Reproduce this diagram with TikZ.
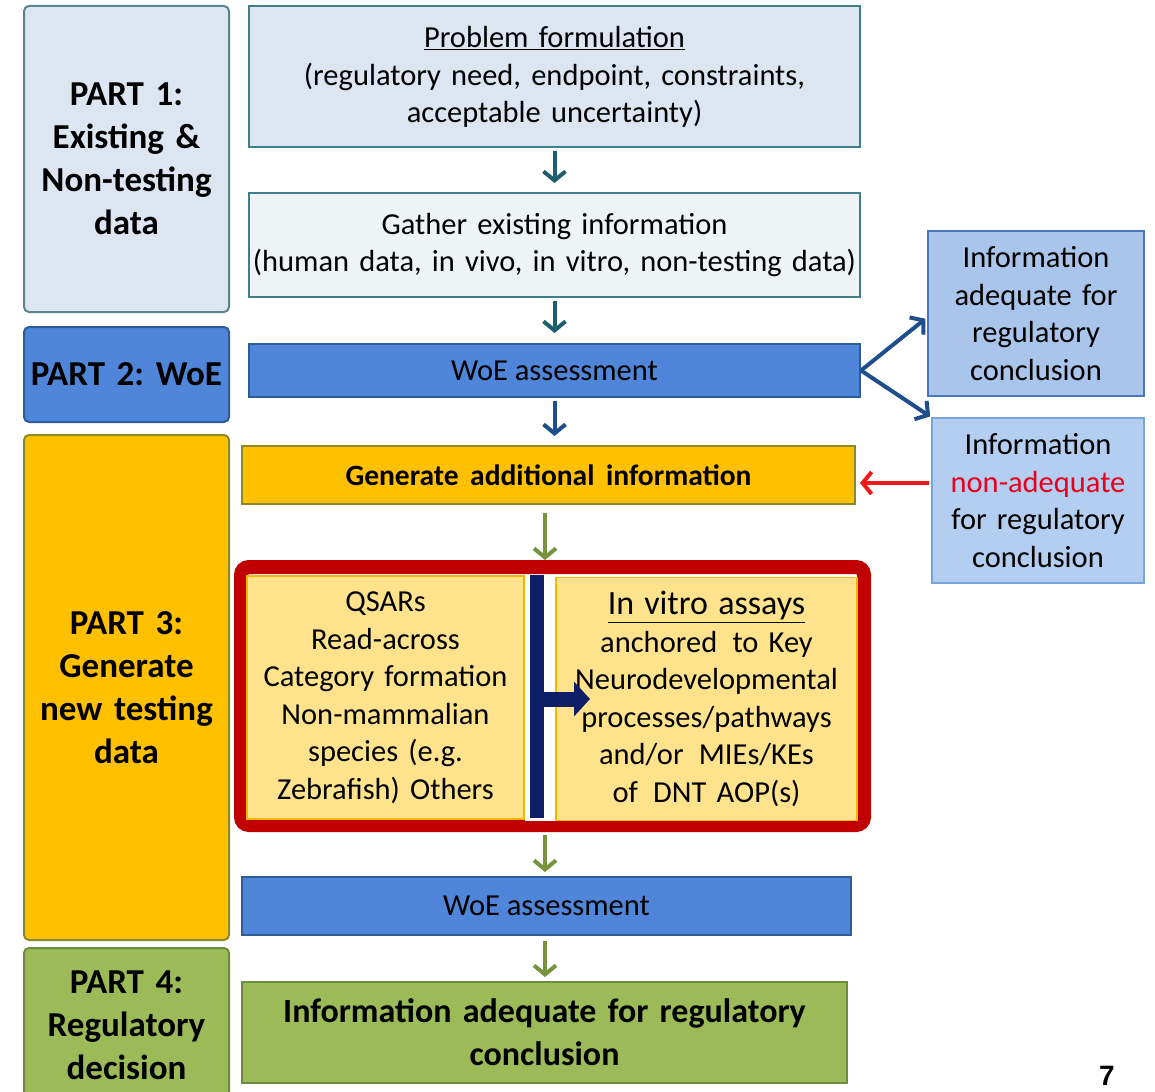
\documentclass[tikz,border=0pt]{standalone}
\usepackage{fontspec}
\setmainfont{Carlito}
\newfontfamily\numfont{Liberation Sans}
\usetikzlibrary{arrows.meta}
\frenchspacing
\definecolor{pAfill}{HTML}{DCE6F2}
\definecolor{pAline}{HTML}{5B8490}
\definecolor{tealline}{HTML}{3F7F8A}
\definecolor{gfill}{HTML}{EEF3F6}
\definecolor{woeblue}{HTML}{4F86D9}
\definecolor{woeline}{HTML}{2E5C97}
\definecolor{orangeF}{HTML}{FFC000}
\definecolor{oliveL}{HTML}{8A8A2C}
\definecolor{greenF}{HTML}{9BBB59}
\definecolor{greenL}{HTML}{6E8B3D}
\definecolor{raF}{HTML}{A9C5EB}
\definecolor{raL}{HTML}{4A78BE}
\definecolor{rnF}{HTML}{B3CEF0}
\definecolor{rnL}{HTML}{7BA3DC}
\definecolor{darkred}{HTML}{C00000}
\definecolor{yelF}{HTML}{FFE38C}
\definecolor{yelL}{HTML}{F2B800}
\definecolor{navyB}{HTML}{0E1E66}
\definecolor{tealA}{HTML}{1E5E6E}
\definecolor{blueA}{HTML}{1F4E8C}
\definecolor{greenA}{HTML}{77933C}
\definecolor{redA}{HTML}{F01818}
\definecolor{redT}{HTML}{E8001C}
\tikzset{
  box/.style={draw, line width=2pt, inner sep=0pt, align=center},
  partbox/.style={box, rounded corners=5pt, minimum width=205pt,
    font=\fontsize{35}{43}\selectfont\bfseries\frenchspacing, text width=203pt},
  txt/.style={font=\fontsize{30.5}{37.5}\selectfont\frenchspacing},
  arr/.style={line width=4pt, -{Straight Barb[length=9pt,width=22pt,line width=4pt]}},
}
\begin{document}
\begin{tikzpicture}[x=1pt,y=-1pt]
\useasboundingbox[fill=white] (0,0) rectangle (1155,1091);

% Left part boxes
\node[partbox, fill=pAfill, draw=pAline, minimum height=306pt] (p1) at (126.5,159) {PART 1:\\Existing \&\\Non-testing\\data};
\node[partbox, fill=woeblue, draw=woeline, minimum height=95pt] (p2) at (126.5,374.5) {PART 2: WoE};
\node[partbox, fill=orangeF, draw=oliveL, minimum height=505pt] (p3) at (126.5,687.5) {PART 3:\\Generate\\new testing\\data};
\node[partbox, fill=greenF, draw=greenL, minimum height=154pt] (p4) at (126.5,1025) {PART 4:\\Regulatory\\decision};

% Main column
\node[box, txt, fill=pAfill, draw=tealline, minimum width=611pt, minimum height=141pt, text width=605pt] (prob) at (554.5,77)
  {\underline{Problem formulation}\\(regulatory need, endpoint, constraints,\\acceptable uncertainty)};
\node[box, txt, fill=gfill, draw=tealline, minimum width=611pt, minimum height=104pt, text width=605pt] (gath) at (554.5,245)
  {Gather existing information\\(human data, in vivo, in vitro, non-testing data)};
\node[box, txt, fill=woeblue, draw=woeline, minimum width=611pt, minimum height=53pt] (woeA) at (554.5,370.5) {WoE assessment};
\node[box, font=\fontsize{29.5}{37.5}\selectfont\bfseries, fill=orangeF, draw=oliveL, minimum width=613pt, minimum height=58pt] (gen) at (548.5,475)
  {Generate\, additional\, information};

% Red framed block
\node[draw=darkred, line width=14pt, rounded corners=8pt, minimum width=623pt, minimum height=258pt, inner sep=0pt] (red) at (552.5,696) {};
\node[box, txt, line width=1.5pt, fill=yelF, draw=yelL, minimum width=277pt, minimum height=243pt, text width=275pt] (ql) at (385.5,697.5)
  {QSARs\\Read-across\\Category formation\\Non-mammalian\\species (e.g.\\Zebrafish) Others};
\node[box, txt, line width=1.5pt, fill=yelF, draw=yelL, minimum width=301pt, minimum height=243pt, text width=299pt] (iv) at (706.5,699)
  {{\fontsize{34}{37.5}\selectfont\underline{In vitro assays}}\\anchored\, to Key\\Neurodevelopmental\\processes/pathways\\and/or\, MIEs/KEs\\of\, DNT AOP(s)};
\fill[white] (ql.north east) rectangle (iv.south west);
\node[fill=navyB, inner sep=0pt, minimum width=14pt, minimum height=243pt] (bar) at (537,696.5) {};
\coordinate (navyTip) at (590,699);
\draw[navyB, line width=15pt, -{Triangle[length=16pt,width=34pt]}] (bar.east |- navyTip) -- (navyTip);

\node[box, txt, fill=woeblue, draw=woeline, minimum width=609pt, minimum height=58pt] (woeB) at (546.5,906) {WoE assessment};
\node[box, font=\fontsize{34}{43}\selectfont\bfseries, fill=greenF, draw=greenL, minimum width=605pt, minimum height=101pt, text width=600pt] (fin) at (544.5,1032.5)
  {Information adequate for regulatory\\conclusion};

% Right boxes
\node[box, txt, fill=raF, draw=raL, minimum width=216pt, minimum height=165pt, text width=214pt] (ra) at (1036,313.5)
  {Information\\adequate for\\regulatory\\conclusion};
\node[box, txt, fill=rnF, draw=rnL, minimum width=212pt, minimum height=165pt, text width=210pt] (rn) at (1038,500.5)
  {Information\\\textcolor{redT}{non-adequate}\\for regulatory\\conclusion};

% Page number
\node[font=\numfont\bfseries\fontsize{28}{28}\selectfont, anchor=south, inner sep=0pt] (pg) at (1107,1086) {7};

% Connectors
\draw[arr, tealA, shorten <=3pt, shorten >=9pt] (prob) -- (gath);
\draw[arr, tealA, shorten <=3pt, shorten >=10pt] (gath) -- (woeA);
\draw[arr, blueA, shorten <=3pt, shorten >=9pt] (woeA.south) -- (woeA.south |- gen.north);
\draw[arr, greenA, shorten <=8pt, shorten >=0pt] (gen.south -| 545,0) -- (red.north -| 545,0);
\draw[arr, greenA, shorten <=3pt, shorten >=4pt] (red.south -| 545,0) -- (woeB.north -| 545,0);
\draw[arr, greenA, shorten <=5pt, shorten >=4pt] (woeB.south -| 545,0) -- (fin.north -| 545,0);
\draw[arr, blueA, shorten >=2pt] (woeA.east) -- ([yshift=-4pt]ra.west);
\draw[arr, blueA, shorten >=1pt] (woeA.east) -- (rn.north west);
\draw[arr, redA, shorten <=2pt, shorten >=4pt] ([yshift=-8pt]rn.west |- gen.east) -- ([yshift=-8pt]gen.east);
\end{tikzpicture}
\end{document}
